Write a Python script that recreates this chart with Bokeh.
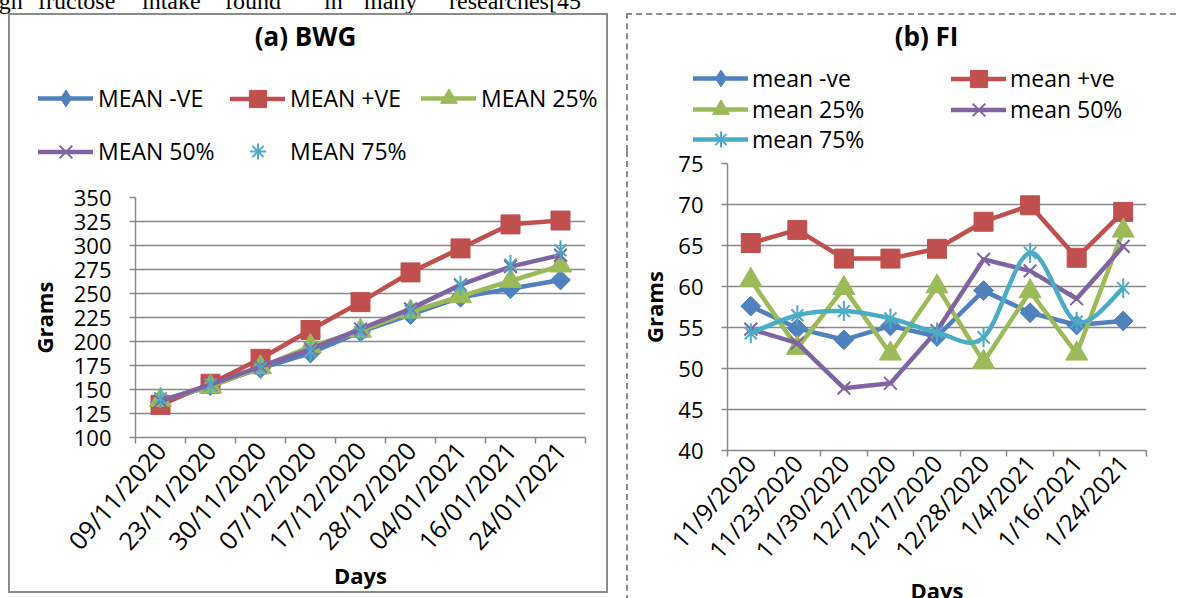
import numpy as np
from bokeh.plotting import figure
from bokeh.models import FixedTicker, Legend, LegendItem, Label, Div, Range1d, Spacer
from bokeh.layouts import row, column
from bokeh.embed import file_html
from bokeh.resources import INLINE

# ---------------- data ----------------
days_a = ["09/11/2020", "23/11/2020", "30/11/2020", "07/12/2020", "17/12/2020",
          "28/12/2020", "04/01/2021", "16/01/2021", "24/01/2021"]
days_b = ["11/9/2020", "11/23/2020", "11/30/2020", "12/7/2020", "12/17/2020",
          "12/28/2020", "1/4/2021", "1/16/2021", "1/24/2021"]

bwg_neg = [137, 154, 172, 188, 210, 228, 246, 255, 264]
bwg_pos = [134, 156, 182, 212, 241, 272, 297, 322, 326]
bwg_25 = [139, 153, 173, 195, 211, 231, 247, 263, 279]
bwg_50 = [138, 155, 174, 192, 213, 234, 259, 278, 290]
bwg_75 = [141, 155, 172, 190, 210, 232, 258, 280, 295]

fi_neg = [57.6, 54.9, 53.5, 55.2, 53.9, 59.5, 56.8, 55.3, 55.8]
fi_pos = [65.3, 66.9, 63.4, 63.4, 64.6, 67.9, 69.9, 63.5, 69.1]
fi_25 = [60.8, 52.5, 59.8, 51.8, 60.0, 50.8, 59.4, 51.8, 66.8]
fi_50 = [54.8, 53.1, 47.6, 48.2, 54.6, 63.3, 61.9, 58.5, 64.9]
fi_75 = [54.3, 56.5, 57.0, 56.1, 54.4, 53.8, 64.1, 55.7, 59.8]

names_a = ["MEAN -VE", "MEAN +VE", "MEAN 25%", "MEAN 50%", "MEAN 75%"]
names_b = ["mean -ve", "mean +ve", "mean 25%", "mean 50%", "mean 75%"]
yticks_a = [100, 125, 150, 175, 200, 225, 250, 275, 300, 325, 350]
yticks_b = [40, 45, 50, 55, 60, 65, 70, 75]
title_a = "(a) BWG"
title_b = "(b) FI"
y_title = "Grams"
x_title = "Days"
top_words = ["high", "fructose", "intake", "found\"", "in", "many", "researches[45"]

colors = ["#4F81BD", "#C0504D", "#9BBB59", "#8064A2", "#4BACC6"]
FONT = "Open Sans"
GRID = "#898989"
LW = 4.5
SOLID = "2px solid #8c8c8c"
DASHED = "2px dashed #8c8c8c"


def no_align(p):
    if "frame_align" in p.properties():
        p.frame_align = False


def header_fig(width, height, css):
    p = figure(width=width, height=height, x_range=Range1d(0, width), y_range=Range1d(0, height),
               x_axis_type=None, y_axis_type=None, output_backend="svg", toolbar_location=None,
               min_border=0, styles=css)
    p.outline_line_color = None
    p.grid.visible = False
    p.background_fill_color = "white"
    p.border_fill_color = "white"
    no_align(p)
    return p


def main_fig(width, height, yr, yticks, labels, mb, css, y_std, x_std, xfs):
    p = figure(width=width, height=height, x_range=Range1d(0, len(labels)),
               y_range=Range1d(*yr), output_backend="svg", toolbar_location=None,
               min_border_left=mb[0], min_border_right=mb[1],
               min_border_top=mb[2], min_border_bottom=mb[3], styles=css)
    no_align(p)
    p.outline_line_color = None
    p.background_fill_color = "white"
    p.border_fill_color = "white"
    p.xgrid.visible = False
    p.ygrid.grid_line_color = GRID
    p.ygrid.grid_line_width = 1.5
    centers = [i + 0.5 for i in range(len(labels))]
    p.xaxis.ticker = FixedTicker(ticks=centers, minor_ticks=list(range(len(labels) + 1)))
    p.xaxis.major_label_overrides = {c: lab for c, lab in zip(centers, labels)}
    p.yaxis.ticker = FixedTicker(ticks=yticks)
    for ax in (p.xaxis[0], p.yaxis[0]):
        ax.axis_line_color = GRID
        ax.axis_line_width = 1.5
        ax.major_label_text_font = FONT
        ax.major_label_text_color = "#000000"
        ax.axis_label_text_font = FONT
        ax.axis_label_text_font_style = "bold"
        ax.axis_label_text_font_size = "22px"
        ax.axis_label_text_color = "#000000"
    p.yaxis.major_label_text_font_size = "22px"
    p.xaxis.major_label_text_font_size = xfs
    p.yaxis.axis_label = y_title
    p.xaxis.axis_label = x_title
    p.yaxis.axis_label_standoff = y_std
    p.xaxis.axis_label_standoff = x_std
    p.yaxis.major_tick_out = 6
    p.yaxis.major_tick_in = 0
    p.yaxis.major_tick_line_color = GRID
    p.yaxis.major_tick_line_width = 1.5
    p.yaxis.minor_tick_line_color = None
    p.yaxis.major_label_standoff = 18
    p.xaxis.major_tick_line_color = None
    p.xaxis.major_tick_out = 0
    p.xaxis.major_tick_in = 0
    p.xaxis.minor_tick_out = 6
    p.xaxis.minor_tick_in = 0
    p.xaxis.minor_tick_line_color = GRID
    p.xaxis.minor_tick_line_width = 1.5
    p.xaxis.major_label_orientation = 0.85
    p.xaxis.major_label_standoff = 2
    return p, centers


def add_legend_item(p, label, color, marker, H, has_line, loc, standoff):
    rs = []
    if has_line:
        rs.append(p.line([np.nan], [np.nan], line_color=color, line_width=LW, line_cap="round"))
    thin = marker in ("x", "asterisk")
    rs.append(p.scatter([np.nan], [np.nan], marker=marker, fill_color=color,
                        line_color=color, line_width=2 if thin else 1))
    leg = Legend(items=[LegendItem(label=label, renderers=rs)], location=loc,
                 orientation="horizontal", glyph_width=55, glyph_height=H,
                 label_height=H, label_standoff=standoff, padding=0, margin=0,
                 border_line_color=None, background_fill_alpha=0,
                 label_text_font=FONT, label_text_font_size="23px",
                 label_text_color="#000000")
    p.add_layout(leg)


def plot_series(p, xs, ys, color, marker, lines=True, smooth=False):
    if lines and not smooth:
        p.line(xs, ys, line_color=color, line_width=LW, line_join="round", line_cap="round")
    if smooth:
        n = len(xs)
        X0, Y0, X1, Y1, CX0, CY0, CX1, CY1 = [], [], [], [], [], [], [], []
        for i in range(n - 1):
            im, i2 = max(i - 1, 0), min(i + 2, n - 1)
            X0.append(xs[i]); Y0.append(ys[i]); X1.append(xs[i + 1]); Y1.append(ys[i + 1])
            CX0.append(xs[i] + (xs[i + 1] - xs[im]) / 6); CY0.append(ys[i] + (ys[i + 1] - ys[im]) / 6)
            CX1.append(xs[i + 1] - (xs[i2] - xs[i]) / 6); CY1.append(ys[i + 1] - (ys[i2] - ys[i]) / 6)
        p.bezier(x0=X0, y0=Y0, x1=X1, y1=Y1, cx0=CX0, cy0=CY0, cx1=CX1, cy1=CY1,
                 line_color=color, line_width=LW, line_cap="round")
    if marker == "diamond":
        p.scatter(xs, ys, marker="square", angle=np.pi / 4, size=14, fill_color=color, line_color=color)
    elif marker == "square":
        p.scatter(xs, ys, marker="square", size=19, fill_color=color, line_color=color)
    elif marker == "triangle":
        p.scatter(xs, ys, marker="triangle", size=22, fill_color=color, line_color=color)
    elif marker == "x":
        p.scatter(xs, ys, marker="x", size=18, line_color=color, line_width=2)
    elif marker == "star":
        p.scatter(xs, ys, marker="x", size=17, line_color=color, line_width=2)
        p.scatter(xs, ys, marker="dash", angle=np.pi / 2, size=20, line_color=color, line_width=2)


markers = ["diamond", "square", "triangle", "x", "star"]
leg_markers = ["diamond", "square", "triangle", "x", "asterisk"]
leg_H = [42, 43, 42, 45, 40]

# ---------------- panel (a) ----------------
# page layout: panel box x 8..612, y 13..597 ; inner origin (10, 15)
ha = header_fig(600, 170, {"border-top": SOLID, "border-left": SOLID, "border-right": SOLID})
HB_A, HL_A = 185.0, 10.0       # page y of header bottom, page x of header left
pos_a = [(38, 98), (230, 98), (421, 98), (38, 151), (230, 151)]
for i, (gx, cy) in enumerate(pos_a):
    H = leg_H[i]
    add_legend_item(ha, names_a[i], colors[i], leg_markers[i], H, i != 4,
                    (gx - HL_A, HB_A - cy - H / 2), 5)
ha.add_layout(Label(x=305 - HL_A, y=HB_A - 35, text=title_a, text_font=FONT,
                    text_font_size="26px", text_font_style="bold", text_align="center",
                    text_baseline="middle", text_color="#000000"))

pa, xa = main_fig(600, 410, (100, 350), yticks_a, days_a, (125, 25, 14, 156),
                  {"border-left": SOLID, "border-right": SOLID, "border-bottom": SOLID},
                  12, -11, "25px")
for ys, c, m in zip([bwg_neg, bwg_pos, bwg_25, bwg_50, bwg_75], colors, markers):
    plot_series(pa, xa, ys, c, m, lines=(m != "star"))

# ---------------- panel (b) ----------------
# panel box x 630.. (runs past the window), y 13.. ; inner origin (632, 15)
hb = header_fig(560, 138, {"border-top": DASHED, "border-left": DASHED})
HB_B, HL_B = 153.0, 632.0
pos_b = [(697, 78), (955, 78), (697, 109), (955, 109), (697, 139)]
for i, (gx, cy) in enumerate(pos_b):
    H = leg_H[i]
    add_legend_item(hb, names_b[i], colors[i], leg_markers[i], H, True,
                    (gx - HL_B, HB_B - cy - H / 2), 4)
hb.add_layout(Label(x=930 - HL_B, y=HB_B - 35, text=title_b, text_font=FONT,
                    text_font_size="26px", text_font_style="bold", text_align="center",
                    text_baseline="middle", text_color="#000000"))

pb, xb = main_fig(560, 460, (40, 75), yticks_b, days_b, (99, 42, 12, 161),
                  {"border-left": DASHED}, 6, -4, "24px")
for k, (ys, c, m) in enumerate(zip([fi_neg, fi_pos, fi_25, fi_50, fi_75], colors, markers)):
    plot_series(pb, xb, ys, c, m, smooth=(k == 4))

# ---------------- cut-off body text at the top ----------------
word_x = [-20, 38, 142, 225, 324, 364, 449]
spans = "".join(
    f'<span style="position:absolute;left:{x}px;top:-12px;white-space:nowrap;line-height:1.15;'
    f'font-family:\'Liberation Serif\';font-size:24px;color:#000">{w}</span>'
    for w, x in zip(top_words, word_x))
top = Div(text=f'<div style="position:relative;height:13px;">{spans}</div>',
          width=1176, height=13, margin=0, styles={"overflow": "visible"})

layout = column(
    top,
    row(Spacer(width=8, height=10, margin=0),
        column(ha, pa, spacing=0),
        Spacer(width=18, height=10, margin=0),
        column(hb, pb, spacing=0), spacing=0),
    spacing=0, width=1177, height=598, styles={"overflow": "hidden"})
open("out.html", "w").write(file_html(layout, INLINE))
